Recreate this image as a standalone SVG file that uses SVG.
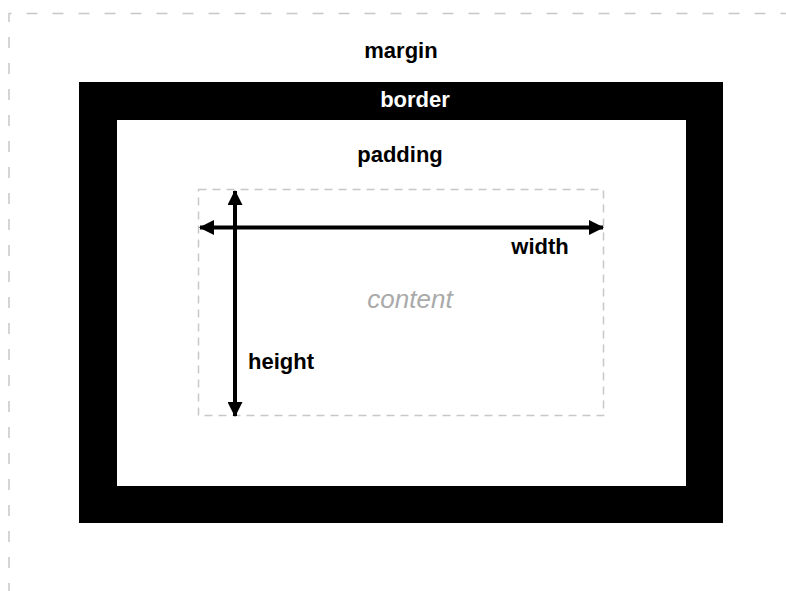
<svg xmlns="http://www.w3.org/2000/svg" width="786" height="591" viewBox="0 0 786 591">
<style>
.lbl{font-family:"Liberation Sans",Arial,Helvetica,sans-serif;font-weight:bold;font-size:22px;fill:#000;text-anchor:middle}
.dash{fill:none;stroke:#c8c8c8;stroke-width:1.5}
.arrow{stroke:#000;stroke-width:4;fill:none}
</style>
<defs>
<marker id="ah" viewBox="0 0 15 15" refX="14" refY="7.5" markerWidth="15" markerHeight="15" markerUnits="userSpaceOnUse" orient="auto-start-reverse">
<path d="M0,0 L15,7.5 L0,15 Z" fill="#000"/>
</marker>
</defs>
<rect width="786" height="591" fill="#fff"/>
<g id="margin">
<path class="dash" d="M9,620 L9,13.5 L800,13.5" stroke-dasharray="11 15"/>
<text class="lbl" x="401" y="58">margin</text>
</g>
<g id="border">
<rect x="79" y="82" width="644" height="441" fill="#000"/>
<rect x="117" y="120" width="569" height="366" fill="#fff"/>
<text class="lbl" x="415" y="107" style="fill:#fff">border</text>
</g>
<g id="padding">
<text class="lbl" x="400" y="162">padding</text>
</g>
<g id="content">
<rect class="dash" x="198.5" y="189.5" width="405" height="226" stroke-dasharray="8 6"/>
<text x="410" y="308" style="font-family:'Liberation Sans',Arial,Helvetica,sans-serif;font-style:italic;font-size:26px;fill:#aaa;text-anchor:middle">content</text>
</g>
<g id="connectors">
<line class="arrow" x1="200" y1="227.5" x2="603" y2="227.5" marker-start="url(#ah)" marker-end="url(#ah)"/>
<line class="arrow" x1="235" y1="416" x2="235" y2="191" marker-end="url(#ah)" marker-start="url(#ah)"/>
</g>
<g id="labels">
<text class="lbl" x="540" y="254">width</text>
<text class="lbl" x="281" y="369">height</text>
</g>
</svg>
